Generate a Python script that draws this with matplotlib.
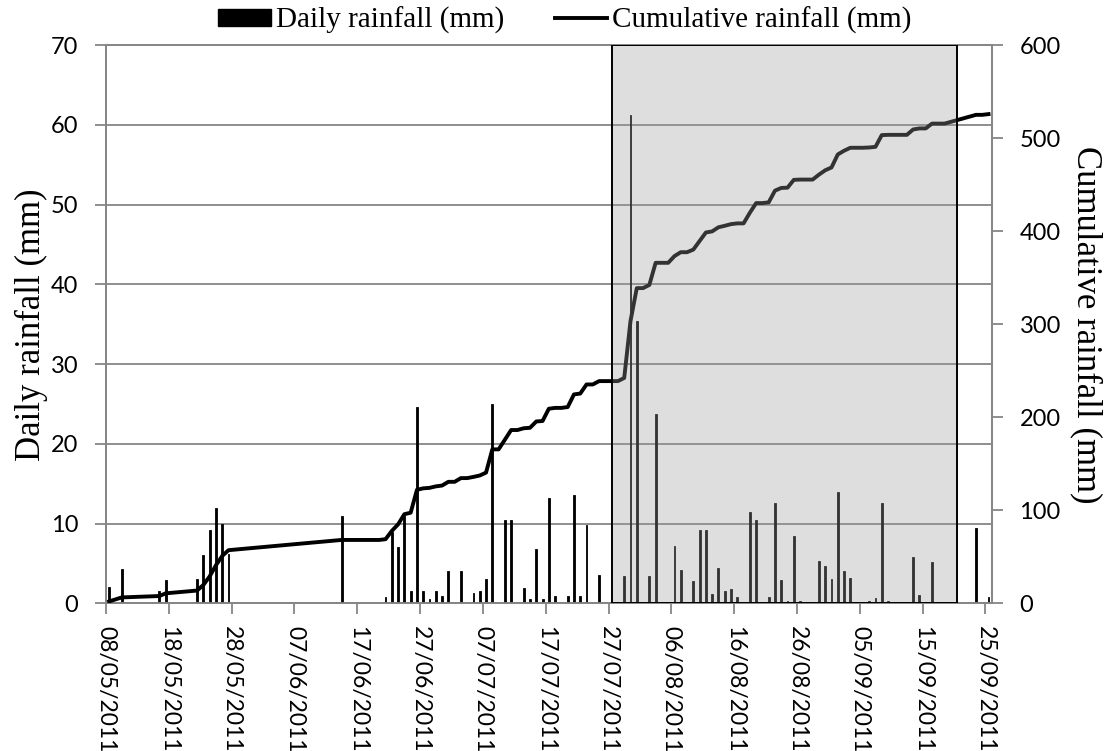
import matplotlib.pyplot as plt
import matplotlib.dates as mdates
from matplotlib.patches import Rectangle
from matplotlib.lines import Line2D
import numpy as np
import pandas as pd

# wet days and their rainfall (mm)
rain_dates = ['08/05/2011', '10/05/2011', '16/05/2011', '17/05/2011', '22/05/2011',
              '23/05/2011', '24/05/2011', '25/05/2011', '26/05/2011', '27/05/2011',
              '14/06/2011', '21/06/2011', '22/06/2011', '23/06/2011', '24/06/2011',
              '25/06/2011', '26/06/2011', '27/06/2011', '28/06/2011', '29/06/2011',
              '30/06/2011', '01/07/2011', '03/07/2011', '05/07/2011', '06/07/2011',
              '07/07/2011', '08/07/2011', '10/07/2011', '11/07/2011', '13/07/2011',
              '14/07/2011', '15/07/2011', '16/07/2011', '17/07/2011', '18/07/2011',
              '20/07/2011', '21/07/2011', '22/07/2011', '23/07/2011', '25/07/2011',
              '29/07/2011', '30/07/2011', '31/07/2011', '02/08/2011', '03/08/2011',
              '06/08/2011', '07/08/2011', '09/08/2011', '10/08/2011', '11/08/2011',
              '12/08/2011', '13/08/2011', '14/08/2011', '15/08/2011', '16/08/2011',
              '18/08/2011', '19/08/2011', '21/08/2011', '22/08/2011', '23/08/2011',
              '24/08/2011', '25/08/2011', '26/08/2011', '29/08/2011', '30/08/2011',
              '31/08/2011', '01/09/2011', '02/09/2011', '03/09/2011', '06/09/2011',
              '07/09/2011', '08/09/2011', '09/09/2011', '13/09/2011', '14/09/2011',
              '16/09/2011', '23/09/2011', '25/09/2011']
rain_mm = [2.0, 4.3, 1.5, 2.9, 3.0,
           6.0, 9.2, 12.0, 10.0, 6.2,
           11.0, 0.8, 8.9, 7.1, 10.9,
           1.6, 24.6, 1.6, 0.5, 1.6,
           0.9, 4.0, 4.0, 1.3, 1.5,
           3.1, 25.0, 10.4, 10.4, 1.9,
           0.5, 6.8, 0.5, 13.2, 0.9,
           0.9, 13.6, 0.9, 9.8, 3.6,
           3.4, 61.2, 35.4, 3.4, 23.8,
           7.2, 4.2, 2.8, 9.2, 9.2,
           1.2, 4.4, 1.6, 1.8, 0.8,
           11.4, 10.4, 0.8, 12.6, 2.9,
           0.3, 8.4, 0.3, 5.3, 4.7,
           3.0, 14.0, 4.0, 3.2, 0.3,
           0.7, 12.6, 0.3, 5.8, 1.1,
           5.2, 9.4, 0.8]

# gauge read only on wet days before this date, every day after it
daily_from = '2011-06-14'
no_reading = ('2011-09-19', '2011-09-22')

# shaded period
period = ('2011-07-27 12:00', '2011-09-20 12:00')

rain = pd.Series(rain_mm, index=pd.to_datetime(rain_dates, dayfirst=True))
days = pd.date_range(daily_from, rain.index[-1], freq='D')
days = days[(days < no_reading[0]) | (days > no_reading[1])]
record = rain.reindex(rain.index.union(days), fill_value=0.0)
cumulative = record.cumsum()

half_day = pd.Timedelta(hours=12)
grey = '#868686'
serif = 'Liberation Serif'
plt.rcParams['font.family'] = 'Lato'

fig = plt.figure(figsize=(11.09, 7.51), dpi=100)
ax = fig.add_axes([0.0956, 0.1967, 0.7986, 0.743])
ax2 = ax.twinx()

ax.bar(rain.index + half_day, rain.values, width=0.3, color='black',
       edgecolor='black', lw=0.6, zorder=3)
ax2.plot(cumulative.index + half_day, cumulative.values, color='black', lw=2.8,
         solid_joinstyle='round', zorder=3)

x0 = mdates.date2num(pd.Timestamp(period[0]))
x1 = mdates.date2num(pd.Timestamp(period[1]))
ax2.add_patch(Rectangle((x0, 0), x1 - x0, 600, facecolor=(0.615, 0.615, 0.615, 0.33),
                        edgecolor='black', lw=1.4, zorder=5))

ax.set_xlim(pd.Timestamp('2011-05-08'), pd.Timestamp('2011-09-26'))
ax.set_ylim(0, 70)
ax2.set_ylim(0, 600)
ax.set_yticks(np.arange(0, 71, 10))
ax2.set_yticks(np.arange(0, 601, 100))
ax.set_xticks(pd.date_range('2011-05-08', '2011-09-25', freq='10D'))
ax.xaxis.set_major_formatter(mdates.DateFormatter('%d/%m/%Y'))
plt.setp(ax.get_xticklabels(), rotation=270, ha='center', va='top')

ax.grid(axis='y', color=grey, lw=1.3, zorder=0)
ax.set_axisbelow(True)
for a in (ax, ax2):
    for s in a.spines.values():
        s.set_color(grey)
        s.set_linewidth(1.3)
ax.tick_params(axis='y', length=8, width=1.3, color=grey, pad=12, labelsize=17)
ax.tick_params(axis='x', length=8, width=1.3, color=grey, pad=8, labelsize=16.5)
ax2.tick_params(axis='y', length=8, width=1.3, color=grey, pad=12, labelsize=17)

ax.set_ylabel('Daily rainfall (mm)', family=serif, fontsize=25, labelpad=2)
ax2.set_ylabel('Cumulative rainfall (mm)', family=serif, fontsize=25, rotation=270,
               labelpad=30)

handles = [Rectangle((0, 0), 1, 1, color='black'), Line2D([], [], color='black', lw=2.8)]
fig.legend(handles, ['Daily rainfall (mm)', 'Cumulative rainfall (mm)'],
           loc='upper center', bbox_to_anchor=(0.5095, 0.995), ncol=2, frameon=False,
           prop={'family': serif, 'size': 21}, handlelength=1.8, handleheight=0.55,
           handletextpad=0.17, columnspacing=1.75, borderaxespad=0, borderpad=0.1)

fig.savefig('out.png', dpi=100)
